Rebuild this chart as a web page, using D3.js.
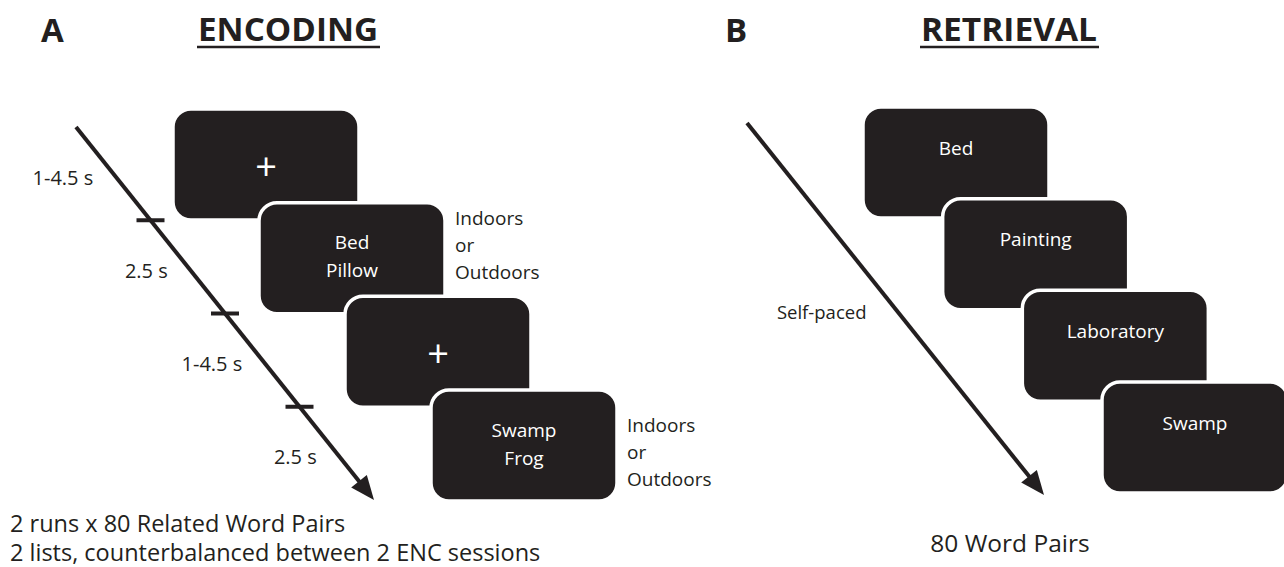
<!DOCTYPE html>
<html>
<head>
<meta charset="utf-8">
<script src="https://cdn.jsdelivr.net/npm/d3@7"></script>
<style>
	html, body { margin: 0; padding: 0; background: #fff; }
	svg { display: block; font-family: 'Open Sans', sans-serif; }
</style>
</head>
<body>
<svg id="chart" width="1284" height="567"></svg>
<script>
// panel titles
const panelLetters = ['A', 'B'];
const panelTitles = ['ENCODING', 'RETRIEVAL'];

// encoding: screens in order, time per screen, response prompt
const encScreens = [['+'], ['Bed', 'Pillow'], ['+'], ['Swamp', 'Frog']];
const encDurations = ['1-4.5 s', '2.5 s', '1-4.5 s', '2.5 s'];
const encPrompt = ['Indoors', 'or', 'Outdoors'];
const encNotes = ['2 runs x 80 Related Word Pairs', '2 lists, counterbalanced between 2 ENC sessions'];

// retrieval: cue words, pacing, note
const retScreens = ['Bed', 'Painting', 'Laboratory', 'Swamp'];
const retPace = 'Self-paced';
const retNotes = ['80 Word Pairs'];

const ink = '#231f20';
const boxW = 186, boxH = 111, boxR = 18;

const svg = d3.select('#chart');

// titles
const titleX = [41, 725];
const headX = [[198, 378], [921, 1097]];
panelLetters.forEach((l, i) => {
	svg.append('text')
		.attr('x', titleX[i]).attr('y', 42)
		.attr('font-size', 33).attr('font-weight', 700).attr('fill', ink)
		.text(l);
	svg.append('text')
		.attr('x', headX[i][0]).attr('y', 41)
		.attr('font-size', 32).attr('font-weight', 700).attr('fill', ink)
		.attr('textLength', headX[i][1] - headX[i][0]).attr('lengthAdjust', 'spacingAndGlyphs')
		.text(panelTitles[i]);
	svg.append('line')
		.attr('x1', headX[i][0] - 1).attr('x2', headX[i][1] + 2)
		.attr('y1', 47).attr('y2', 47)
		.attr('stroke', ink).attr('stroke-width', 2.5);
});

// draw a diagonal time arrow, returns scales along it
function timeArrow(x0, y0, x1, y1) {
	const ax = d3.scaleLinear().domain([0, 1]).range([x0, x1]);
	const ay = d3.scaleLinear().domain([0, 1]).range([y0, y1]);
	const len = Math.hypot(x1 - x0, y1 - y0);
	const ux = (x1 - x0) / len, uy = (y1 - y0) / len;
	const head = 24, half = 10;
	const bx = x1 - ux * head, by = y1 - uy * head;
	svg.append('line')
		.attr('x1', x0).attr('y1', y0).attr('x2', bx + ux * 2).attr('y2', by + uy * 2)
		.attr('stroke', ink).attr('stroke-width', 4);
	svg.append('path')
		.attr('d', d3.line()([
			[x1, y1],
			[bx - uy * half, by + ux * half],
			[bx + uy * half, by - ux * half],
		]) + 'Z')
		.attr('fill', ink);
	return { ax, ay };
}

// screens as rounded boxes
function screens(data, xs, ys) {
	const g = svg.append('g');
	const s = g.selectAll('g.screen')
		.data(data)
		.join('g')
		.attr('class', 'screen')
		.attr('transform', (d, i) => `translate(${ xs(i) }, ${ ys(i) })`);
	s.append('rect')
		.attr('width', boxW).attr('height', boxH)
		.attr('rx', boxR).attr('ry', boxR)
		.attr('fill', ink)
		.attr('stroke', '#fff').attr('stroke-width', 3.5);
	return s;
}

// ---- panel A: encoding
const encX = d3.scaleLinear().domain([0, encScreens.length - 1]).range([173, 431]);
const encY = d3.scaleLinear().domain([0, encScreens.length - 1]).range([109, 390]);
// prompt block centre, by screen index
const promptY = d3.scaleLinear().domain([1, 3]).range([245, 452]);
const encArrow = timeArrow(76, 127, 374, 500);

// boundaries between screens
const ticks = d3.range(1, encScreens.length).map(i => i / encScreens.length);
svg.selectAll('line.tick')
	.data(ticks)
	.join('line')
	.attr('class', 'tick')
	.attr('x1', t => encArrow.ax(t) - 14).attr('x2', t => encArrow.ax(t) + 14)
	.attr('y1', t => encArrow.ay(t)).attr('y2', t => encArrow.ay(t))
	.attr('stroke', ink).attr('stroke-width', 4);

svg.selectAll('text.dur')
	.data(encDurations)
	.join('text')
	.attr('class', 'dur')
	.attr('x', (d, i) => encArrow.ax((i + 0.5) / encDurations.length) - 20)
	.attr('y', (d, i) => encArrow.ay((i + 0.5) / encDurations.length) + 4)
	.attr('dy', '0.35em')
	.attr('text-anchor', 'end')
	.attr('font-size', 20).attr('fill', ink)
	.text(d => d);

const encS = screens(encScreens, encX, encY);
encS.each(function (d, i) {
	const g = d3.select(this);
	if (d[0] === '+') {
		g.append('text')
			.attr('x', boxW / 2).attr('y', boxH / 2 + 2)
			.attr('dy', '0.35em').attr('text-anchor', 'middle')
			.attr('font-size', 38).attr('fill', '#fff')
			.text(d[0]);
	} else {
		g.selectAll('text')
			.data(d)
			.join('text')
			.attr('x', boxW / 2)
			.attr('y', (w, j) => 40 + j * 28)
			.attr('dy', '0.35em').attr('text-anchor', 'middle')
			.attr('font-size', 19).attr('fill', '#fff')
			.text(w => w);
		// response prompt beside the word pair
		const top = promptY(i) - encY(i);
		g.selectAll('text.prompt')
			.data(encPrompt)
			.join('text')
			.attr('class', 'prompt')
			.attr('x', boxW + 10)
			.attr('y', (w, j) => top + (j - 1) * 27)
			.attr('dy', '0.35em')
			.attr('font-size', 19).attr('fill', ink)
			.text(w => w);
	}
});

svg.selectAll('text.encnote')
	.data(encNotes)
	.join('text')
	.attr('class', 'encnote')
	.attr('x', 10).attr('y', (d, i) => 532 + i * 29)
	.attr('font-size', 23.5).attr('fill', ink)
	.text(d => d);

// ---- panel B: retrieval
const retX = d3.scaleLinear().domain([0, retScreens.length - 1]).range([863, 1102]);
const retY = d3.scaleLinear().domain([0, retScreens.length - 1]).range([107, 382]);
const retArrow = timeArrow(747, 123, 1044, 495);

svg.append('text')
	.attr('x', retArrow.ax(0.51) - 32).attr('y', retArrow.ay(0.51))
	.attr('dy', '0.35em').attr('text-anchor', 'end')
	.attr('font-size', 18.5).attr('fill', ink)
	.text(retPace);

const retS = screens(retScreens, retX, retY);
retS.append('text')
	.attr('x', boxW / 2).attr('y', 41)
	.attr('dy', '0.35em').attr('text-anchor', 'middle')
	.attr('font-size', 19).attr('fill', '#fff')
	.text(d => d);

svg.selectAll('text.retnote')
	.data(retNotes)
	.join('text')
	.attr('class', 'retnote')
	.attr('x', 1010).attr('y', 552)
	.attr('text-anchor', 'middle')
	.attr('font-size', 24.5).attr('fill', ink)
	.text(d => d);
</script>
</body>
</html>
